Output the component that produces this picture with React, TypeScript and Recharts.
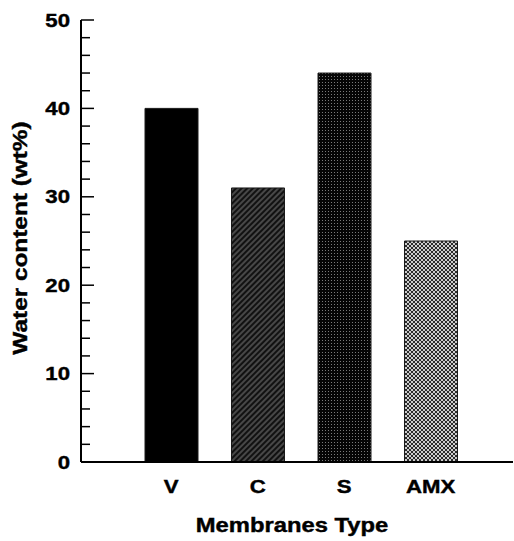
import { Bar, BarChart, Cell, Label, XAxis, YAxis } from 'recharts';

const categories = ['V', 'C', 'S', 'AMX'];
const waterContent = [40, 31, 44, 25];
const barFills = ['#000000', 'url(#hatchC)', 'url(#dotS)', 'url(#crossAMX)'];
const majorTicks = [0, 10, 20, 30, 40, 50];
const allTicks = [0, 2, 4, 6, 8, 10, 12, 14, 16, 18, 20, 22, 24, 26, 28, 30, 32, 34, 36, 38, 40, 42, 44, 46, 48, 50];

const data = categories.map((name, i) => ({ name, value: waterContent[i] }));

const FONT = '"Liberation Sans", Arial, sans-serif';
const STRETCH = 1.2; // scanned figure is a bit wider than tall

function YTick(props: any) {
  const { x, y, payload } = props;
  const v = payload.value as number;
  const major = majorTicks.includes(v);
  return (
    <g>
      <line x1={x} x2={x + (major ? 13 : 9)} y1={y} y2={y} stroke="#000" strokeWidth={1.5} />
      {major ? (
        <text
          transform={`translate(${x - 11},${y + 6.5}) scale(${STRETCH},1)`}
          textAnchor="end"
          fontFamily={FONT}
          fontWeight="bold"
          fontSize={18.5}
          fill="#000"
          stroke="#000"
          strokeWidth={0.4}
        >
          {v}
        </text>
      ) : null}
    </g>
  );
}

function XTick(props: any) {
  const { x, y, payload } = props;
  return (
    <text
      transform={`translate(${x},${y + 31}) scale(${STRETCH},1)`}
      textAnchor="middle"
      fontFamily={FONT}
      fontWeight="bold"
      fontSize={18.5}
      fill="#000"
      stroke="#000"
      strokeWidth={0.4}
    >
      {payload.value}
    </text>
  );
}

export default function App() {
  return (
    <div style={{ position: 'absolute', left: 0, top: 0, width: 514, height: 541, background: '#fff' }}>
      <BarChart width={514} height={541} data={data} margin={{ top: 20, right: 1, bottom: 0, left: 0 }}>
        <defs>
          <pattern id="hatchC" width={4} height={4} patternUnits="userSpaceOnUse" patternTransform="rotate(-45)">
            <rect width={4} height={4} fill="#111" />
            <line x1={0} x2={4} y1={2} y2={2} stroke="#8a8a8a" strokeWidth={0.9} />
          </pattern>
          <pattern id="dotS" width={3} height={3} patternUnits="userSpaceOnUse">
            <rect width={3} height={3} fill="#050505" />
            <rect x={1} y={1} width={1} height={1} fill="#7a7a7a" />
          </pattern>
          <pattern id="crossAMX" width={4} height={4} patternUnits="userSpaceOnUse">
            <rect width={4} height={4} fill="#cdcdcd" />
            <path d="M0,0 L4,4 M4,0 L0,4" stroke="#2a2a2a" strokeWidth={1} />
          </pattern>
        </defs>
        <XAxis
          dataKey="name"
          height={79}
          padding={{ left: 47, right: 39 }}
          axisLine={{ stroke: '#000', strokeWidth: 2 }}
          tickLine={false}
          tickSize={0}
          tickMargin={0}
          interval={0}
          tick={<XTick />}
        >
          <Label
            content={(p: any) => {
              const vb = p.viewBox;
              return (
                <text
                  transform={`translate(${vb.x + vb.width / 2 - 5},${vb.y + 70}) scale(${STRETCH + 0.02},1)`}
                  textAnchor="middle"
                  fontFamily={FONT}
                  fontWeight="bold"
                  fontSize={19.5}
                  fill="#000"
                  stroke="#000"
                  strokeWidth={0.4}
                >
                  Membranes Type
                </text>
              );
            }}
          />
        </XAxis>
        <XAxis xAxisId="top" dataKey="name" orientation="top" height={0} tick={false} tickLine={false} axisLine={{ stroke: '#000', strokeWidth: 1.5 }} />
        <YAxis
          width={81}
          domain={[0, 50]}
          ticks={allTicks}
          interval={0}
          axisLine={{ stroke: '#000', strokeWidth: 2 }}
          tickLine={false}
          tickSize={0}
          tickMargin={0}
          tick={<YTick />}
        >
          <Label
            content={(p: any) => {
              const vb = p.viewBox;
              return (
                <text
                  transform={`translate(${vb.x + 27},${vb.y + vb.height / 2 - 3}) rotate(-90) scale(1.25,1)`}
                  textAnchor="middle"
                  fontFamily={FONT}
                  fontWeight="bold"
                  fontSize={19.5}
                  fill="#000"
                  stroke="#000"
                  strokeWidth={0.4}
                >
                  Water content (wt%)
                </text>
              );
            }}
          />
        </YAxis>
        <YAxis yAxisId="right" orientation="right" width={0} domain={[0, 50]} tick={false} tickLine={false} axisLine={{ stroke: '#000', strokeWidth: 1.5 }} />
        <Bar dataKey="value" barSize={53} stroke="#1a1a1a" strokeWidth={1} isAnimationActive={false}>
          {data.map((d, i) => (
            <Cell key={d.name} fill={barFills[i]} />
          ))}
        </Bar>
      </BarChart>
    </div>
  );
}
